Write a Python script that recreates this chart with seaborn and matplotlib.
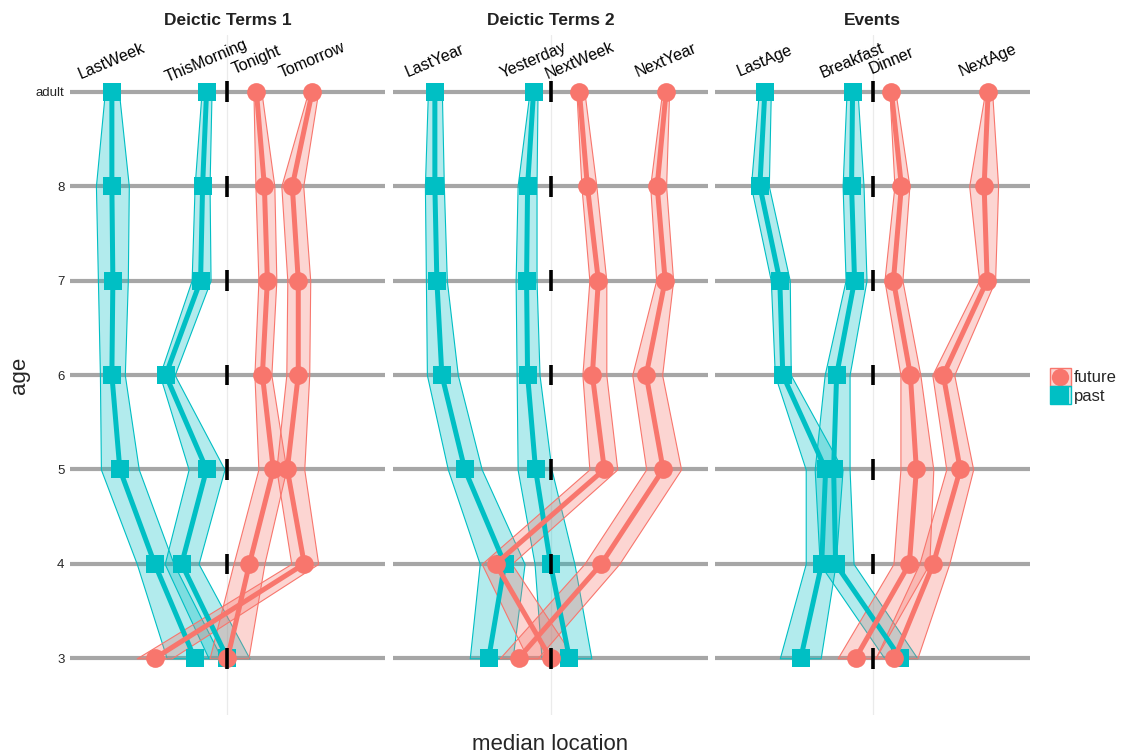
import pandas as pd
import matplotlib.pyplot as plt
import seaborn as sns
from matplotlib.colors import to_rgba
from matplotlib.patches import Rectangle
from matplotlib.lines import Line2D
from matplotlib.legend_handler import HandlerBase

# age levels, bottom to top
ages = ["3", "4", "5", "6", "7", "8", "adult"]
panels = ["Deictic Terms 1", "Deictic Terms 2", "Events"]

panel_terms = {
    "Deictic Terms 1": ["LastWeek", "ThisMorning", "Tonight", "Tomorrow"],
    "Deictic Terms 2": ["LastYear", "Yesterday", "NextWeek", "NextYear"],
    "Events": ["LastAge", "Breakfast", "Dinner", "NextAge"],
}
tense = {
    "LastWeek": "past", "ThisMorning": "past", "Tonight": "future", "Tomorrow": "future",
    "LastYear": "past", "Yesterday": "past", "NextWeek": "future", "NextYear": "future",
    "LastAge": "past", "Breakfast": "past", "Dinner": "future", "NextAge": "future",
}

# median location per age (3, 4, 5, 6, 7, 8, adult)
median_loc = {
    "LastWeek":    [-3.3, -7.3, -10.8, -11.6, -11.5, -11.6, -11.6],
    "ThisMorning": [0.0, -4.6, -2.1, -6.2, -2.7, -2.5, -2.1],
    "Tonight":     [0.0, 2.2, 4.6, 3.5, 4.0, 3.7, 2.9],
    "Tomorrow":    [-7.3, 7.7, 6.0, 7.1, 7.1, 6.5, 8.5],
    "LastYear":    [-6.2, -4.6, -8.6, -10.9, -11.4, -11.6, -11.6],
    "Yesterday":   [1.9, 0.0, -1.5, -2.3, -2.4, -2.3, -1.7],
    "NextWeek":    [0.0, -5.5, 5.4, 4.2, 4.8, 3.7, 2.9],
    "NextYear":    [-3.2, 5.1, 11.3, 9.6, 11.5, 10.7, 11.6],
    "LastAge":     [-7.2, -5.1, -4.7, -9.0, -9.3, -11.3, -10.8],
    "Breakfast":   [2.8, -3.7, -3.9, -3.6, -1.8, -2.1, -2.0],
    "Dinner":      [-1.7, 3.7, 4.4, 3.8, 2.1, 2.9, 1.9],
    "NextAge":     [2.2, 6.1, 8.8, 7.1, 11.5, 11.2, 11.6],
}
ci_low = {
    "LastWeek":    [-6.1, -9.1, -12.7, -12.8, -13.0, -13.2, -12.3],
    "ThisMorning": [-1.9, -6.3, -3.9, -6.8, -3.6, -3.3, -2.6],
    "Tonight":     [-1.8, 0.6, 3.1, 2.7, 3.1, 2.8, 2.6],
    "Tomorrow":    [-9.1, 6.4, 4.9, 5.9, 6.0, 5.4, 8.1],
    "LastYear":    [-8.1, -7.1, -10.3, -12.4, -12.5, -12.6, -12.3],
    "Yesterday":   [-0.9, -1.6, -3.3, -3.4, -3.5, -3.3, -2.1],
    "NextWeek":    [-2.3, -6.9, 3.9, 3.2, 3.9, 3.1, 2.6],
    "NextYear":    [-5.1, 3.4, 9.6, 8.2, 10.6, 10.0, 11.2],
    "LastAge":     [-9.3, -6.7, -6.7, -9.8, -10.2, -12.2, -11.4],
    "Breakfast":   [1.2, -5.3, -5.8, -4.8, -2.7, -3.0, -2.6],
    "Dinner":      [-3.5, 2.1, 2.8, 2.8, 1.2, 2.2, 1.7],
    "NextAge":     [0.3, 4.7, 7.4, 6.0, 10.7, 9.7, 11.3],
}
ci_high = {
    "LastWeek":    [-0.6, -5.4, -8.9, -10.3, -10.0, -9.9, -10.9],
    "ThisMorning": [2.2, -2.9, -0.3, -5.3, -1.7, -1.8, -1.6],
    "Tonight":     [2.1, 3.7, 5.9, 4.4, 4.9, 4.7, 3.4],
    "Tomorrow":    [-5.6, 9.1, 7.7, 8.2, 8.3, 7.6, 9.1],
    "LastYear":    [-3.8, -2.6, -6.9, -9.3, -10.4, -10.7, -10.9],
    "Yesterday":   [4.1, 2.4, 0.1, -1.1, -1.4, -1.4, -1.3],
    "NextWeek":    [2.4, -3.9, 6.7, 5.6, 5.6, 4.6, 3.4],
    "NextYear":    [-1.3, 6.9, 13.1, 11.2, 12.3, 11.6, 11.9],
    "LastAge":     [-5.2, -3.7, -3.0, -8.2, -8.3, -10.4, -10.2],
    "Breakfast":   [4.5, -1.9, -2.3, -2.3, -0.6, -0.9, -1.5],
    "Dinner":      [0.3, 5.7, 6.1, 4.8, 3.0, 3.7, 2.3],
    "NextAge":     [4.5, 7.7, 10.1, 8.2, 12.3, 12.6, 12.0],
}

pal = {"future": "#F8766D", "past": "#00BFC4"}
markers = {"future": "o", "past": "s"}

rows = []
for p in panels:
    for t in panel_terms[p]:
        for i, a in enumerate(ages):
            rows.append({"panel": p, "term": t, "tense": tense[t], "age_pos": i,
                         "loc": median_loc[t][i], "lo": ci_low[t][i], "hi": ci_high[t][i]})
df = pd.DataFrame(rows)


class LegendKey:
    def __init__(self, tn):
        self.tn = tn


class BoxMarkerHandler(HandlerBase):
    # filled box with the marker centred in it, like a ggplot key
    def create_artists(self, legend, orig_handle, xdescent, ydescent, width, height,
                       fontsize, trans):
        c = pal[orig_handle.tn]
        box = Rectangle((-xdescent, -ydescent), width, height, facecolor=to_rgba(c, 0.3),
                        edgecolor=c, linewidth=1, transform=trans)
        dot = Line2D([-xdescent + width / 2], [-ydescent + height / 2], color=c,
                     marker=markers[orig_handle.tn], markersize=12.5, markeredgewidth=0,
                     linestyle="none", transform=trans)
        return [box, dot]


sns.set_style("white")
plt.rcParams["font.family"] = ["Liberation Sans", "DejaVu Sans"]

fig = plt.figure(figsize=(11.22, 7.56), dpi=100)
lefts = [70, 393, 715]
axes = [fig.add_axes([l / 1122, 1 - 715 / 756, 315 / 1122, 680 / 756]) for l in lefts]

for ax, p in zip(axes, panels):
    sub = df[df["panel"] == p]
    ax.axvline(0, color="#ebebeb", lw=0.9, zorder=0)
    for i in range(len(ages)):
        ax.axhline(i, color="#a6a6a6", lw=3, zorder=0.5)

    for tn in ["past", "future"]:
        for t in panel_terms[p]:
            if tense[t] != tn:
                continue
            d = sub[sub["term"] == t]
            ax.fill_betweenx(d["age_pos"], d["lo"], d["hi"],
                             facecolor=to_rgba(pal[tn], 0.3),
                             edgecolor=pal[tn], linewidth=0.8, zorder=1)

    sns.lineplot(data=sub, x="loc", y="age_pos", hue="tense", style="tense",
                 hue_order=["past", "future"], style_order=["past", "future"],
                 units="term", estimator=None, orient="y", palette=pal,
                 markers=markers, dashes=False, linewidth=3.6, markersize=13.5,
                 markeredgewidth=0, legend=False, ax=ax, zorder=2)

    ax.vlines([0] * len(ages), [i - 0.11 for i in range(len(ages))],
              [i + 0.11 for i in range(len(ages))], color="black", lw=2.6, zorder=10)

    for t in panel_terms[p]:
        ax.text(median_loc[t][-1], 6.33, t, rotation=23, ha="center", va="center",
                fontsize=11.5, color="black")

    ax.set_xlim(-15.8, 15.8)
    ax.set_ylim(-0.6, 6.6)
    ax.set_title(p, fontsize=12.5, fontweight="bold", color="#222222", pad=7)
    ax.set_xlabel("")
    ax.set_ylabel("")
    ax.set_xticks([])
    sns.despine(ax=ax, left=True, bottom=True)
    ax.set_yticks(range(len(ages)))
    if ax is axes[0]:
        ax.set_yticklabels(ages, fontsize=9.5)
        ax.tick_params(axis="y", length=0, pad=4)
        ax.set_ylabel("age", fontsize=16, labelpad=4)
    else:
        ax.set_yticklabels([])
        ax.tick_params(axis="y", length=0)

fig.text(550 / 1122, 1 - 745 / 756, "median location", ha="center", va="center", fontsize=16)

fig.legend([LegendKey("future"), LegendKey("past")], ["future", "past"],
           handler_map={LegendKey: BoxMarkerHandler()},
           loc="center left", bbox_to_anchor=(1043 / 1122, 1 - 386 / 756),
           frameon=False, fontsize=12, handlelength=1.25, handleheight=1.25,
           handletextpad=0.2, labelspacing=0.05, borderaxespad=0)

fig.savefig("out.png", dpi=100)
